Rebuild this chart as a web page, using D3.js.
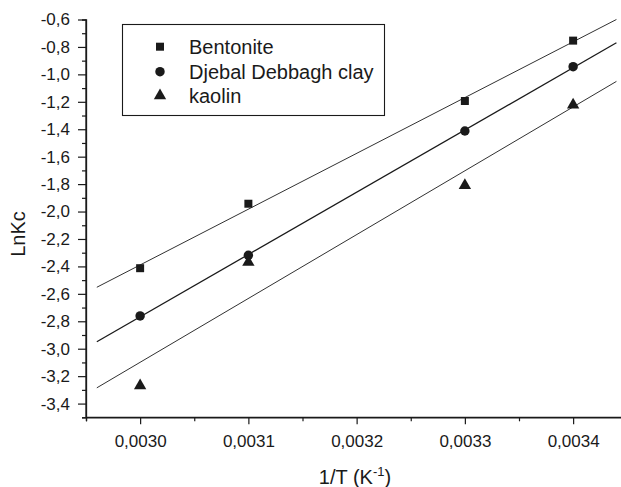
<!DOCTYPE html>
<html><head><meta charset="utf-8">
<script src="https://cdn.jsdelivr.net/npm/d3@7"></script>
<style>
html,body{margin:0;padding:0;background:#fff;}
svg{display:block;font-family:"Liberation Sans",Arial,sans-serif;}
</style></head>
<body>
<svg id="chart" width="621" height="487"></svg>
<script>
// ---- data ----
const invT = [0.0030, 0.0031, 0.0033, 0.0034];
const bentonite = [-2.413, -1.943, -1.194, -0.754];
const djebal = [-2.761, -2.319, -1.413, -0.944];
const kaolin = [-3.27, -2.37, -1.81, -1.223];
const seriesNames = ["Bentonite", "Djebal Debbagh clay", "kaolin"];
const fitRange = [0.00296, 0.00344];
const xMajorTicks = [0.0030, 0.0031, 0.0032, 0.0033, 0.0034];
const xMinorTicks = [0.00295, 0.00305, 0.00315, 0.00325, 0.00335, 0.00345];
const yMajorTicks = [-0.6,-0.8,-1.0,-1.2,-1.4,-1.6,-1.8,-2.0,-2.2,-2.4,-2.6,-2.8,-3.0,-3.2,-3.4];
const yMinorTicks = [-0.7,-0.9,-1.1,-1.3,-1.5,-1.7,-1.9,-2.1,-2.3,-2.5,-2.7,-2.9,-3.1,-3.3,-3.5];

const series = [
  {name: seriesNames[0], values: bentonite, symbol: d3.symbolSquare, size: 64, lw: 0.9},
  {name: seriesNames[1], values: djebal, symbol: d3.symbolCircle, size: 70, lw: 1.3},
  {name: seriesNames[2], values: kaolin, symbol: d3.symbolTriangle, size: 66, lw: 0.9}
];

const svg = d3.select("#chart");
const L = 86, R = 627.25, T = 19.5, B = 417.3;
const x = d3.scaleLinear().domain([0.00295, 0.00345]).range([L, R]);
const y = d3.scaleLinear().domain([-3.5, -0.6]).range([B, T]);
const ink = "#1a1a1a";
const fmtX = d => d3.format(".4f")(d).replace(".", ",");
const fmtY = d => d3.format(".1f")(d).replace(".", ",").replace("−", "-");

// axes
const gx = svg.append("g").attr("transform", `translate(0,${B})`);
gx.call(d3.axisBottom(x).tickValues(xMajorTicks).tickSize(7).tickPadding(11).tickFormat(fmtX));
const gxm = svg.append("g").attr("transform", `translate(0,${B})`);
gxm.call(d3.axisBottom(x).tickValues(xMinorTicks).tickSize(4).tickFormat(""));
const gy = svg.append("g").attr("transform", `translate(${L},0)`);
gy.call(d3.axisLeft(y).tickValues(yMajorTicks).tickSize(8).tickPadding(8).tickFormat(fmtY));
const gym = svg.append("g").attr("transform", `translate(${L},0)`);
gym.call(d3.axisLeft(y).tickValues(yMinorTicks).tickSize(4).tickFormat(""));
[gx, gxm, gy, gym].forEach(g => {
  g.selectAll("path.domain").attr("stroke", ink).attr("stroke-width", 1.3);
  g.selectAll(".tick line").attr("stroke", ink).attr("stroke-width", 1.2);
  g.selectAll(".tick text").attr("fill", ink).attr("font-size", 17)
    .attr("font-family", "'Liberation Sans', Arial, sans-serif");
});
gx.selectAll("path.domain").attr("d", `M${L},0H${R}`);
gy.selectAll("path.domain").attr("d", `M0,${T}V${B}`);

// regression fits
function fit(xs, ys) {
  const mx = d3.mean(xs), my = d3.mean(ys);
  let sxy = 0, sxx = 0;
  xs.forEach((xv, i) => { sxy += (xv - mx) * (ys[i] - my); sxx += (xv - mx) ** 2; });
  const b = sxy / sxx;
  return xv => my + b * (xv - mx);
}
const line = d3.line().x(d => x(d[0])).y(d => y(d[1]));
series.forEach(s => {
  const f = fit(invT, s.values);
  svg.append("path")
    .attr("d", line(fitRange.map(xv => [xv, f(xv)])))
    .attr("fill", "none").attr("stroke", ink).attr("stroke-width", s.lw);
});

// markers
series.forEach(s => {
  svg.append("g").selectAll("path")
    .data(invT.map((xv, i) => [xv, s.values[i]]))
    .join("path")
    .attr("d", d3.symbol().type(s.symbol).size(s.size))
    .attr("transform", d => `translate(${x(d[0])},${y(d[1])})`)
    .attr("fill", ink);
});

// legend
const lg = svg.append("g");
lg.append("rect").attr("x", 122.5).attr("y", 24.5).attr("width", 262).attr("height", 91)
  .attr("fill", "#fff").attr("stroke", ink).attr("stroke-width", 1.1);
const rowY = [46.7, 71.7, 95.7];
series.forEach((s, i) => {
  lg.append("path").attr("d", d3.symbol().type(s.symbol).size(s.size))
    .attr("transform", `translate(160,${rowY[i]})`).attr("fill", ink);
  lg.append("text").attr("x", 189).attr("y", rowY[i] + 7).attr("font-size", 20)
    .attr("fill", ink).text(s.name);
});

// axis titles
const xt = svg.append("text").attr("x", 355).attr("y", 484).attr("text-anchor", "middle")
  .attr("font-size", 20).attr("fill", ink);
xt.append("tspan").text("1/T (K");
xt.append("tspan").attr("font-size", 13).attr("dy", -8).text("-1");
xt.append("tspan").attr("dy", 8).text(")");
svg.append("text").attr("transform", "translate(25,234) rotate(-90)").attr("text-anchor", "middle")
  .attr("font-size", 20).attr("fill", ink).text("LnKc");
</script>
</body></html>
